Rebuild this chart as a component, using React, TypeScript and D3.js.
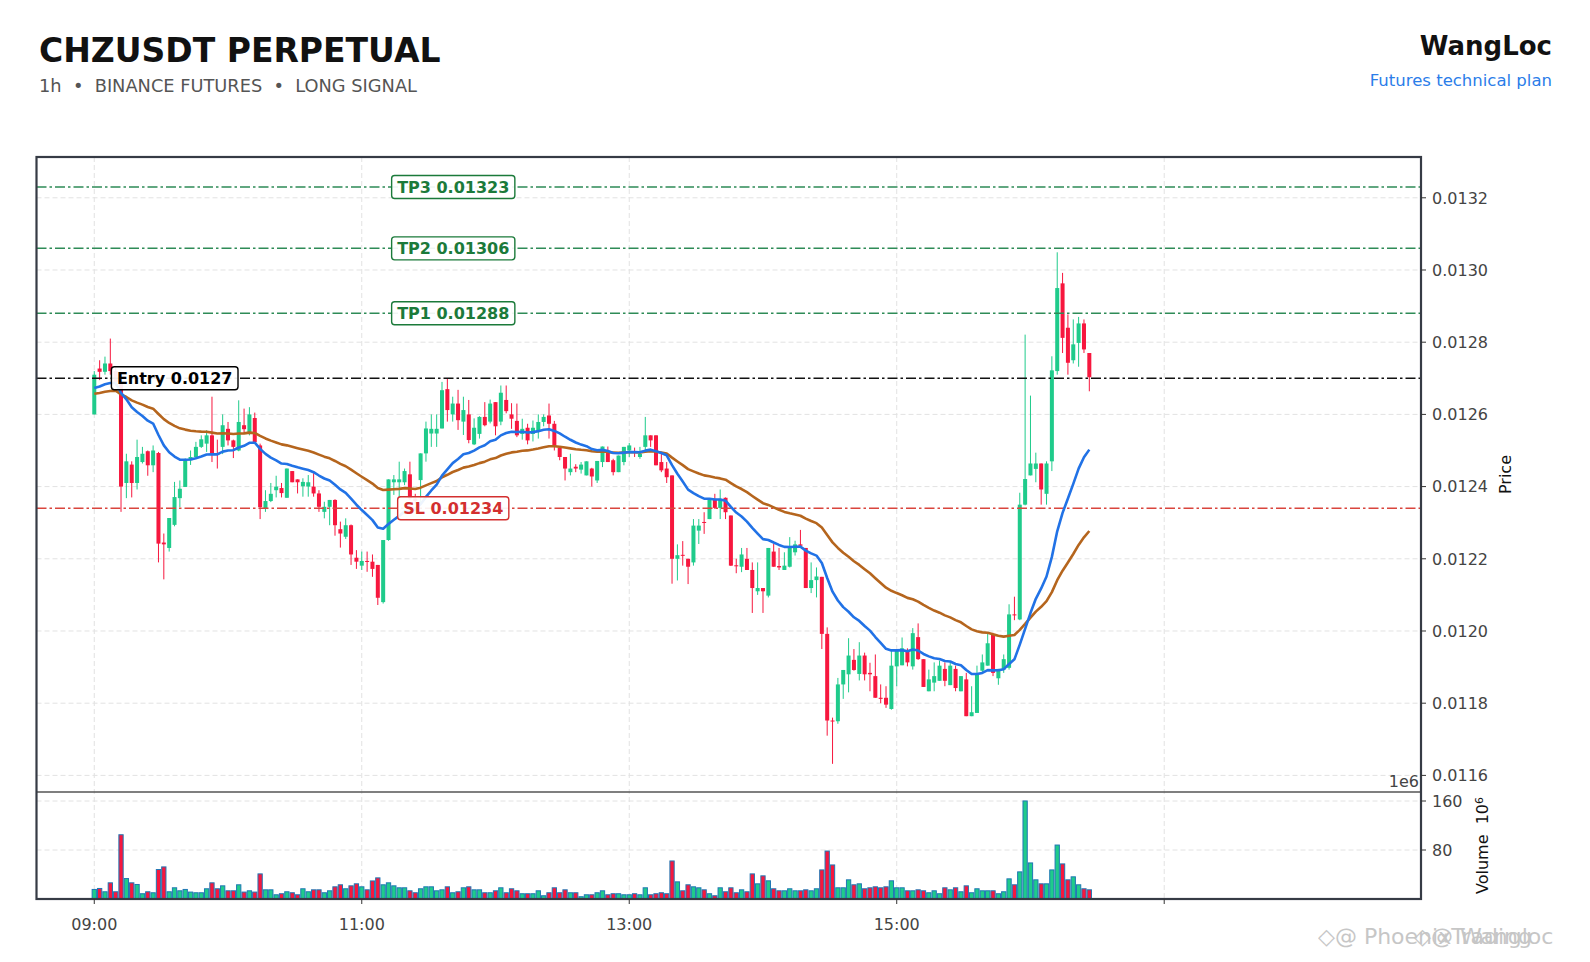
import React, { useRef, useEffect } from 'react';
import * as d3 from 'd3';

// candle data, one entry per bar (index 0 = 09:00)
const opens = [
  0.0126, 0.012727, 0.012718, 0.012741, 0.01272, 0.01269, 0.01241, 0.012461, 0.01241, 0.012468,
  0.012498, 0.012459, 0.012493, 0.012245, 0.01223, 0.012294, 0.012368, 0.012399, 0.012473, 0.012482,
  0.01251, 0.012519, 0.012542, 0.012491, 0.01251, 0.01256, 0.012528, 0.0125, 0.01257, 0.012547,
  0.01259, 0.012514, 0.01234, 0.01236, 0.01239, 0.012396, 0.012369, 0.012443, 0.01242, 0.012401,
  0.0124, 0.0124, 0.012381, 0.01233, 0.012344, 0.012363, 0.012282, 0.012261, 0.012293, 0.012203,
  0.012181, 0.012194, 0.012192, 0.012183, 0.01208, 0.012252, 0.012412, 0.012412, 0.012412, 0.012434,
  0.012367, 0.012418, 0.012492, 0.012547, 0.012547, 0.012561, 0.01267, 0.0126, 0.01263, 0.01258,
  0.0126, 0.012517, 0.012546, 0.012593, 0.01258, 0.012634, 0.01258, 0.01264, 0.0126, 0.012582,
  0.012546, 0.012563, 0.012546, 0.012556, 0.012579, 0.012597, 0.012574, 0.012508, 0.012482, 0.01244,
  0.012455, 0.012447, 0.012431, 0.01245, 0.012417, 0.012468, 0.012496, 0.012473, 0.01244, 0.012468,
  0.0125, 0.012498, 0.012482, 0.01251, 0.012542, 0.012542, 0.012468, 0.01245, 0.012431, 0.0122,
  0.012211, 0.0122, 0.01219, 0.012278, 0.012302, 0.01231, 0.012366, 0.012341, 0.012369, 0.01232,
  0.012182, 0.012178, 0.0122, 0.012169, 0.01211, 0.012119, 0.012098, 0.01222, 0.01218, 0.012169,
  0.012178, 0.012218, 0.01224, 0.01223, 0.012119, 0.012141, 0.01215, 0.011992, 0.011752, 0.01175,
  0.011852, 0.01188, 0.01192, 0.011881, 0.011932, 0.011884, 0.011875, 0.011815, 0.011815, 0.011784,
  0.011902, 0.011905, 0.011946, 0.011902, 0.011983, 0.011922, 0.011833, 0.011857, 0.011862, 0.011895,
  0.01185, 0.011895, 0.011833, 0.011866, 0.011764, 0.011773, 0.01189, 0.011904, 0.01199, 0.011869,
  0.011893, 0.011898, 0.012046, 0.012032, 0.01235, 0.012431, 0.012449, 0.012464, 0.01238, 0.01247,
  0.01272, 0.012963, 0.01284, 0.01275, 0.012798, 0.012852, 0.01277,
];

const highs = [
  0.01272, 0.01275, 0.01276, 0.01281, 0.01273, 0.0127, 0.012491, 0.01247, 0.01253, 0.01251,
  0.0125, 0.012514, 0.012496, 0.01227, 0.012313, 0.012413, 0.012417, 0.012478, 0.0125, 0.012524,
  0.012542, 0.012556, 0.012649, 0.01253, 0.0126, 0.012579, 0.01253, 0.012639, 0.012616, 0.01262,
  0.012605, 0.012519, 0.01239, 0.01241, 0.01243, 0.01241, 0.01245, 0.012443, 0.01242, 0.012423,
  0.012432, 0.012437, 0.01239, 0.012358, 0.012363, 0.012365, 0.012303, 0.012312, 0.012295, 0.012224,
  0.01222, 0.01222, 0.012212, 0.012183, 0.012252, 0.01242, 0.012432, 0.012469, 0.01245, 0.012469,
  0.01238, 0.012492, 0.01258, 0.0126, 0.0126, 0.01269, 0.0127, 0.012649, 0.012668, 0.012649,
  0.01264, 0.012589, 0.012595, 0.012634, 0.012641, 0.012634, 0.01268, 0.01268, 0.012631, 0.01263,
  0.012588, 0.012574, 0.012583, 0.0126, 0.0126, 0.01263, 0.012582, 0.01251, 0.012482, 0.012491,
  0.012462, 0.012468, 0.01247, 0.012452, 0.012471, 0.012511, 0.012511, 0.012477, 0.012486, 0.01251,
  0.012521, 0.012508, 0.01251, 0.012593, 0.012542, 0.012542, 0.012491, 0.012468, 0.012431, 0.01224,
  0.012249, 0.0122, 0.01231, 0.01231, 0.012329, 0.012366, 0.01238, 0.012392, 0.01237, 0.01232,
  0.0122, 0.01223, 0.01223, 0.01219, 0.01219, 0.012119, 0.01223, 0.012241, 0.01223, 0.012218,
  0.01226, 0.01225, 0.01228, 0.01223, 0.01219, 0.012176, 0.01215, 0.01201, 0.01176, 0.01187,
  0.011892, 0.01198, 0.01195, 0.011969, 0.01194, 0.011912, 0.011935, 0.011852, 0.011847, 0.011948,
  0.011948, 0.011982, 0.011952, 0.012008, 0.012021, 0.011922, 0.011893, 0.011913, 0.011918, 0.011913,
  0.011916, 0.011904, 0.011875, 0.011884, 0.011847, 0.011904, 0.011935, 0.011995, 0.011995, 0.011895,
  0.011935, 0.012074, 0.012095, 0.012383, 0.012821, 0.012652, 0.012494, 0.012464, 0.01247, 0.012761,
  0.013049, 0.012992, 0.012877, 0.012863, 0.01287, 0.012863, 0.01277,
];

const lows = [
  0.0126, 0.012695, 0.01271, 0.01271, 0.01268, 0.01233, 0.012368, 0.01237, 0.012392, 0.012464,
  0.01243, 0.01244, 0.01219, 0.012143, 0.01222, 0.01229, 0.012343, 0.012399, 0.01246, 0.01248,
  0.012507, 0.012496, 0.012468, 0.01245, 0.01249, 0.012514, 0.012479, 0.012498, 0.012547, 0.012542,
  0.012519, 0.01231, 0.01233, 0.012357, 0.01237, 0.01237, 0.012369, 0.012412, 0.012381, 0.012372,
  0.012372, 0.012372, 0.01233, 0.012312, 0.012293, 0.012264, 0.012231, 0.012255, 0.012183, 0.012172,
  0.012169, 0.012164, 0.01215, 0.012072, 0.012076, 0.01225, 0.012377, 0.012367, 0.012404, 0.012363,
  0.012352, 0.012355, 0.012469, 0.01251, 0.01251, 0.012561, 0.01258, 0.01258, 0.012557, 0.012543,
  0.01252, 0.012515, 0.012533, 0.012567, 0.012575, 0.012542, 0.01257, 0.012603, 0.01256, 0.012537,
  0.01253, 0.012517, 0.012525, 0.012533, 0.012567, 0.012533, 0.0125, 0.012473, 0.012417, 0.012431,
  0.01244, 0.012436, 0.012431, 0.0124, 0.01241, 0.012454, 0.012468, 0.012431, 0.01244, 0.012459,
  0.012482, 0.012482, 0.012477, 0.0125, 0.01251, 0.012459, 0.01244, 0.01241, 0.012131, 0.01214,
  0.012181, 0.01213, 0.012181, 0.012241, 0.012269, 0.01231, 0.012338, 0.01231, 0.01231, 0.01218,
  0.01216, 0.012163, 0.012169, 0.01205, 0.0121, 0.01205, 0.012093, 0.012178, 0.012169, 0.012169,
  0.012176, 0.012209, 0.012233, 0.012119, 0.012105, 0.012093, 0.01195, 0.01171, 0.011632, 0.011743,
  0.011812, 0.01183, 0.01189, 0.011863, 0.011863, 0.011833, 0.011815, 0.0118, 0.011787, 0.011782,
  0.011847, 0.011905, 0.011902, 0.011893, 0.01192, 0.011845, 0.011833, 0.011833, 0.011862, 0.011847,
  0.01185, 0.011833, 0.011833, 0.011764, 0.011764, 0.011773, 0.011884, 0.011904, 0.011875, 0.011851,
  0.011884, 0.011893, 0.01203, 0.01203, 0.012348, 0.012431, 0.012412, 0.01235, 0.01235, 0.012443,
  0.01271, 0.01277, 0.01271, 0.012741, 0.012732, 0.01277, 0.012664,
];

const closes = [
  0.01271, 0.012718, 0.012741, 0.01272, 0.01269, 0.0124, 0.01247, 0.01241, 0.012482, 0.012491,
  0.012459, 0.0125, 0.012242, 0.01224, 0.012313, 0.012371, 0.012394, 0.012473, 0.012482, 0.01251,
  0.012531, 0.012542, 0.012491, 0.012488, 0.01257, 0.012528, 0.01251, 0.012579, 0.012559, 0.0126,
  0.012523, 0.012343, 0.01236, 0.01238, 0.0124, 0.012382, 0.01245, 0.012412, 0.012412, 0.012413,
  0.012412, 0.012381, 0.012344, 0.012344, 0.012363, 0.012293, 0.01227, 0.012293, 0.012212, 0.012192,
  0.012194, 0.012192, 0.012172, 0.012092, 0.012252, 0.01242, 0.01242, 0.01242, 0.012443, 0.012367,
  0.01236, 0.012492, 0.012561, 0.01256, 0.01256, 0.012667, 0.012612, 0.01263, 0.012584, 0.012612,
  0.012529, 0.012563, 0.012593, 0.01257, 0.01263, 0.012567, 0.01266, 0.012609, 0.012588, 0.012542,
  0.01256, 0.012528, 0.012563, 0.012579, 0.012593, 0.012574, 0.01251, 0.012482, 0.01245, 0.01245,
  0.01245, 0.012461, 0.01247, 0.012428, 0.012471, 0.012511, 0.012468, 0.01244, 0.012486, 0.01251,
  0.012514, 0.012493, 0.012491, 0.012542, 0.012528, 0.012459, 0.012445, 0.012426, 0.0122, 0.01221,
  0.012209, 0.012178, 0.012292, 0.012292, 0.0123, 0.012366, 0.012341, 0.012366, 0.012329, 0.012181,
  0.01218, 0.012212, 0.012169, 0.012119, 0.012119, 0.01211, 0.01223, 0.012178, 0.012176, 0.012181,
  0.01223, 0.01224, 0.012236, 0.012119, 0.012141, 0.012151, 0.011992, 0.011752, 0.01175, 0.011852,
  0.011892, 0.011932, 0.011892, 0.011932, 0.01188, 0.01188, 0.011815, 0.011812, 0.011796, 0.011904,
  0.011948, 0.011952, 0.011913, 0.011994, 0.011922, 0.011845, 0.011866, 0.011875, 0.011904, 0.011862,
  0.011904, 0.011842, 0.011875, 0.011764, 0.011775, 0.01188, 0.011913, 0.011966, 0.011884, 0.011895,
  0.011922, 0.012046, 0.012044, 0.01235, 0.012421, 0.012464, 0.012464, 0.012392, 0.012464, 0.012722,
  0.01295, 0.012812, 0.012743, 0.012794, 0.012852, 0.01278, 0.012703,
];

// volume in millions
const volumes = [
  15.6, 17.2, 11.8, 26.4, 11.8, 104.9, 33.4, 26.4, 23.7, 8.6,
  11.8, 10.2, 48.1, 52.4, 11.8, 18.3, 13.4, 15.6, 11.3, 10.2,
  10.2, 16.7, 26.4, 16.7, 21.5, 13.4, 13.4, 23.2, 11.3, 13.4,
  11.3, 41.0, 15.0, 15.0, 6.9, 8.6, 11.8, 10.2, 6.9, 16.7,
  11.8, 15.0, 15.0, 10.2, 13.4, 19.9, 23.2, 16.7, 21.5, 24.8,
  19.9, 15.0, 29.5, 34.5, 23.2, 26.4, 21.5, 18.3, 18.3, 13.4,
  10.2, 16.7, 19.9, 19.9, 13.4, 15.0, 19.9, 10.2, 11.8, 18.3,
  19.9, 15.0, 15.0, 10.2, 10.2, 13.4, 18.3, 10.2, 16.7, 13.4,
  8.6, 8.6, 8.6, 13.4, 5.3, 10.2, 18.3, 10.2, 15.0, 10.2,
  10.2, 3.7, 6.9, 6.9, 10.2, 13.4, 6.9, 8.6, 8.6, 6.9,
  6.9, 8.6, 6.9, 18.3, 6.9, 8.6, 10.2, 8.6, 62.1, 28.0,
  13.4, 23.2, 19.9, 18.3, 15.0, 8.6, 5.3, 18.3, 11.8, 18.3,
  10.2, 15.0, 11.8, 41.0, 24.8, 37.8, 29.7, 16.7, 13.4, 13.4,
  16.7, 13.4, 13.4, 15.0, 13.4, 16.7, 47.5, 78.3, 55.6, 18.3,
  18.3, 31.3, 23.2, 24.8, 16.7, 18.3, 19.9, 18.3, 19.9, 29.7,
  18.3, 18.3, 13.4, 13.4, 15.0, 13.4, 10.2, 13.4, 8.6, 18.3,
  15.0, 18.3, 11.8, 21.5, 10.2, 16.7, 13.4, 13.4, 13.4, 8.6,
  11.8, 32.9, 23.2, 44.3, 160.1, 58.9, 31.3, 24.8, 24.8, 47.5,
  88.1, 57.3, 31.3, 36.2, 23.2, 16.7, 15.0,
];

const timeTickIdx = [0, 50, 100, 150, 200];
const timeTickLabels = ['09:00', '11:00', '13:00', '15:00', ''];
const priceTicks = [0.0116, 0.0118, 0.012, 0.0122, 0.0124, 0.0126, 0.0128, 0.013, 0.0132];
const volumeTicks = [80, 160];

const levelNames = ['TP3', 'TP2', 'TP1', 'Entry', 'SL'];
const levelPrices = [0.01323, 0.01306, 0.01288, 0.0127, 0.01234];
const levelKinds = ['tp', 'tp', 'tp', 'entry', 'sl'];

// EMA settings (values at the first visible bar come from earlier history)
const EMA_FAST = 20;
const EMA_SLOW = 50;
const EMA_FAST_START = 0.012673;
const EMA_SLOW_START = 0.012657;

const UP = '#1fcb8b';
const DOWN = '#f7173e';

const LEVEL_STYLE: Record<string, { line: string; text: string }> = {
  tp: { line: '#2e8b57', text: '#1b7a3a' },
  entry: { line: '#111111', text: '#000000' },
  sl: { line: '#d9453d', text: '#d32f2f' },
};

function ema(values: number[], span: number, start: number) {
  const k = 2 / (span + 1);
  const out: number[] = [];
  values.forEach((v, i) => {
    out.push(i === 0 ? start : out[i - 1] + k * (v - out[i - 1]));
  });
  return out;
}

const W = 1590;
const H = 962;
const box = { left: 36.5, right: 1421, top: 157, split: 792, bottom: 899 };
const NB = '\u00a0';

export default function App() {
  const svgRef = useRef<SVGSVGElement>(null);

  useEffect(() => {
    if (!svgRef.current) return;
    const svg = d3.select(svgRef.current);
    svg.selectAll('*').remove();

    const n = closes.length;
    const idx = d3.range(n);

    const x = d3.scaleLinear().domain([-10.8, 248]).range([box.left, box.right]);
    const y = d3.scaleLinear().domain([0.011554, 0.013313]).range([box.split, box.top]);
    const yv = d3.scaleLinear().domain([0, 174.7]).range([box.bottom, box.split]);

    const font = '"DejaVu Sans", sans-serif';
    svg.append('rect').attr('width', W).attr('height', H).attr('fill', '#fff');

    // header
    svg.append('text').attr('x', 39).attr('y', 61.5).attr('font-size', 33).attr('font-weight', 700)
      .attr('fill', '#111').attr('font-family', font).text('CHZUSDT PERPETUAL');
    svg.append('text').attr('x', 39).attr('y', 91.5).attr('font-size', 17.8).attr('fill', '#555')
      .attr('font-family', font)
      .text(`1h${NB}${NB}•${NB}${NB}BINANCE FUTURES${NB}${NB}•${NB}${NB}LONG SIGNAL`);
    svg.append('text').attr('x', 1552).attr('y', 54.5).attr('text-anchor', 'end').attr('font-size', 26)
      .attr('font-weight', 700).attr('fill', '#111').attr('font-family', font).text('WangLoc');
    svg.append('text').attr('x', 1552).attr('y', 86).attr('text-anchor', 'end').attr('font-size', 16.5)
      .attr('fill', '#2b7de9').attr('font-family', font).text('Futures technical plan');

    const g = svg.append('g').attr('font-family', font);

    // grid
    const grid = g.append('g').attr('stroke', '#e2e2e2').attr('stroke-width', 1).attr('stroke-dasharray', '5,3');
    timeTickIdx.forEach((t) => {
      grid.append('line').attr('x1', x(t)).attr('x2', x(t)).attr('y1', box.top).attr('y2', box.bottom);
    });
    priceTicks.forEach((p) => {
      grid.append('line').attr('x1', box.left).attr('x2', box.right).attr('y1', y(p)).attr('y2', y(p));
    });
    volumeTicks.forEach((v) => {
      grid.append('line').attr('x1', box.left).attr('x2', box.right).attr('y1', yv(v)).attr('y2', yv(v));
    });

    // volume bars
    const bw = (x(1) - x(0)) * 0.8;
    g.append('g').selectAll('rect').data(idx).enter().append('rect')
      .attr('x', (i) => x(i) - bw / 2)
      .attr('width', bw)
      .attr('y', (i) => yv(volumes[i]))
      .attr('height', (i) => yv(0) - yv(volumes[i]))
      .attr('fill', (i) => (closes[i] >= opens[i] ? UP : DOWN))
      .attr('stroke', '#1f77b4')
      .attr('stroke-width', 1);

    // candles
    const cw = (x(1) - x(0)) * 0.75;
    const candles = g.append('g');
    candles.selectAll('line').data(idx).enter().append('line')
      .attr('x1', (i) => x(i)).attr('x2', (i) => x(i))
      .attr('y1', (i) => y(highs[i])).attr('y2', (i) => y(lows[i]))
      .attr('stroke', (i) => (closes[i] >= opens[i] ? UP : DOWN))
      .attr('stroke-width', 1);
    candles.selectAll('rect').data(idx).enter().append('rect')
      .attr('x', (i) => x(i) - cw / 2)
      .attr('width', cw)
      .attr('y', (i) => y(Math.max(opens[i], closes[i])))
      .attr('height', (i) => Math.max(1, Math.abs(y(opens[i]) - y(closes[i]))))
      .attr('fill', (i) => (closes[i] >= opens[i] ? UP : DOWN));

    // level lines
    levelPrices.forEach((p, k) => {
      g.append('line').attr('x1', box.left).attr('x2', box.right).attr('y1', y(p)).attr('y2', y(p))
        .attr('stroke', LEVEL_STYLE[levelKinds[k]].line).attr('stroke-width', 1.5)
        .attr('stroke-dasharray', '10,3,2.5,3');
    });

    // moving averages
    const fast = ema(closes, EMA_FAST, EMA_FAST_START);
    const slow = ema(closes, EMA_SLOW, EMA_SLOW_START);
    const line = (vals: number[]) => d3.line<number>().x((i) => x(i)).y((i) => y(vals[i]))(idx);
    g.append('path').attr('d', line(slow)).attr('fill', 'none').attr('stroke', '#b5651d')
      .attr('stroke-width', 2.6).attr('stroke-linejoin', 'round');
    g.append('path').attr('d', line(fast)).attr('fill', 'none').attr('stroke', '#2172e6')
      .attr('stroke-width', 2.6).attr('stroke-linejoin', 'round');

    // level labels
    levelPrices.forEach((p, k) => {
      const kind = levelKinds[k];
      const st = LEVEL_STYLE[kind];
      const lg = g.append('g');
      const rect = lg.append('rect').attr('fill', '#fff').attr('fill-opacity', 0.92)
        .attr('stroke', st.text).attr('stroke-width', 1.4).attr('rx', 3);
      const txt = lg.append('text').attr('y', y(p)).attr('dy', '0.36em').attr('font-size', 16)
        .attr('font-weight', 700).attr('fill', st.text).text(`${levelNames[k]} ${p}`);
      const tw = (txt.node() as SVGTextElement).getComputedTextLength();
      const pad = 5.5;
      let left: number;
      if (kind === 'entry') left = x(3.2);
      else left = x(67.1) - (tw + pad * 2) / 2;
      txt.attr('x', left + pad);
      rect.attr('x', left).attr('width', tw + pad * 2).attr('y', y(p) - 11.5).attr('height', 23);
    });

    // frame
    g.append('line').attr('x1', box.left).attr('x2', box.right).attr('y1', box.split).attr('y2', box.split)
      .attr('stroke', '#555').attr('stroke-width', 1.5);
    g.append('rect').attr('x', box.left).attr('y', box.top).attr('width', box.right - box.left)
      .attr('height', box.bottom - box.top).attr('fill', 'none').attr('stroke', '#363b45').attr('stroke-width', 2.2);

    // right axis ticks
    const axisColor = '#444';
    priceTicks.forEach((p) => {
      g.append('line').attr('x1', box.right).attr('x2', box.right + 5).attr('y1', y(p)).attr('y2', y(p))
        .attr('stroke', '#333').attr('stroke-width', 1);
      g.append('text').attr('x', box.right + 11).attr('y', y(p)).attr('dy', '0.36em').attr('font-size', 16)
        .attr('fill', axisColor).text(d3.format('.4f')(p));
    });
    volumeTicks.forEach((v) => {
      g.append('line').attr('x1', box.right).attr('x2', box.right + 5).attr('y1', yv(v)).attr('y2', yv(v))
        .attr('stroke', '#333').attr('stroke-width', 1);
      g.append('text').attr('x', box.right + 11).attr('y', yv(v)).attr('dy', '0.36em').attr('font-size', 16)
        .attr('fill', axisColor).text(String(v));
    });
    g.append('text').attr('x', box.right - 2).attr('y', 787).attr('text-anchor', 'end').attr('font-size', 16)
      .attr('fill', axisColor).text('1e6');

    // bottom axis
    timeTickIdx.forEach((t, k) => {
      g.append('line').attr('x1', x(t)).attr('x2', x(t)).attr('y1', box.bottom).attr('y2', box.bottom + 5)
        .attr('stroke', '#333').attr('stroke-width', 1);
      if (timeTickLabels[k]) {
        g.append('text').attr('x', x(t)).attr('y', 930).attr('text-anchor', 'middle').attr('font-size', 16)
          .attr('fill', axisColor).text(timeTickLabels[k]);
      }
    });

    // axis titles
    g.append('text').attr('transform', `translate(1511, ${(box.top + box.split) / 2}) rotate(-90)`)
      .attr('text-anchor', 'middle').attr('font-size', 16).attr('fill', '#111').text('Price');
    const vt = g.append('text').attr('transform', `translate(1488, ${(box.split + box.bottom) / 2}) rotate(-90)`)
      .attr('text-anchor', 'middle').attr('font-size', 16).attr('fill', '#111');
    vt.append('tspan').text(`Volume${NB}${NB}10`);
    vt.append('tspan').attr('dy', '-0.45em').attr('font-size', 11).text('6');

    // watermark (two overlapping stamps, as in the source image)
    const wm = svg.append('g').attr('font-family', font).attr('font-size', 22).attr('fill', '#bdbdbd').attr('opacity', 0.85);
    wm.append('text').attr('x', 1318).attr('y', 944).text('◇@ PhoenixTrading');
    wm.append('text').attr('x', 1414).attr('y', 944).text('◇@ Wangloc');
  }, []);

  return (
    <div style={{ position: 'absolute', left: 0, top: 0 }}>
      <svg ref={svgRef} width={W} height={H} style={{ display: 'block' }} />
    </div>
  );
}
